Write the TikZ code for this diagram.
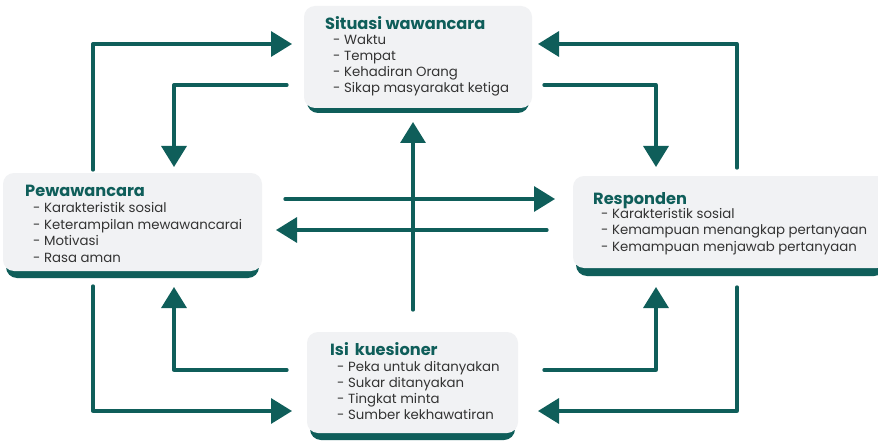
\documentclass[tikz,border=0pt]{standalone}
\usepackage{fontspec}
\setmainfont{Poppins}
\usetikzlibrary{arrows.meta}
\definecolor{dteal}{HTML}{0F5E5A}
\definecolor{boxgray}{HTML}{F1F2F4}
\definecolor{txtgray}{HTML}{333333}
\begin{document}
\begin{tikzpicture}[x=1pt,y=-1pt,
  box/.style={fill=boxgray, rounded corners=11pt, draw=none, inner sep=0, outer sep=0},
  shadowbox/.style={fill=dteal, rounded corners=11pt, draw=none, inner sep=0, outer sep=0},
  arr/.style={draw=dteal, line width=3.3pt, line cap=round, line join=round, -{Triangle[length=21pt,width=25pt]}},
  ttl/.style={anchor=base west, font=\fontsize{16.2}{20}\selectfont\bfseries, text=dteal, inner sep=0},
  itm/.style={anchor=base west, font=\fontsize{13.3}{16}\selectfont, text=txtgray, inner sep=0}]
\useasboundingbox (0,0) rectangle (878,441);
\fill[white] (0,0) rectangle (878,441);

% boxes with shadows
\node[shadowbox, minimum width=222pt, minimum height=102pt] (sitS) at (418,62) {};
\node[box, minimum width=228pt, minimum height=102pt] (sit) at (418,57) {};
\node[shadowbox, minimum width=253pt, minimum height=98pt] (pewS) at (132.5,229) {};
\node[box, minimum width=259pt, minimum height=98pt] (pew) at (132.5,222) {};
\node[shadowbox, minimum width=309pt, minimum height=92pt] (resS) at (730.5,230) {};
\node[box, minimum width=315pt, minimum height=92pt] (res) at (730.5,222) {};
\node[shadowbox, minimum width=205pt, minimum height=101pt] (isiS) at (412.5,389.5) {};
\node[box, minimum width=211pt, minimum height=101pt] (isi) at (412.5,382.5) {};

% texts
\node[ttl] (sitT) at (325,29.8) {Situasi wawancara};
\foreach \t [count=\i] in {Waktu,Tempat,Kehadiran Orang,Sikap masyarakat ketiga}
  \node[itm] (sitI\i) at (333,29+15.9*\i) {- \t};
\node[ttl] (pewT) at (25,196) {Pewawancara};
\foreach \t [count=\i] in {Karakteristik sosial,Keterampilan mewawancarai,Motivasi,Rasa aman}
  \node[itm] (pewI\i) at (33,195.6+16.7*\i) {- \t};
\node[ttl] (resT) at (593,204) {Responden};
\foreach \t [count=\i] in {Karakteristik sosial,Kemampuan menangkap pertanyaan,Kemampuan menjawab pertanyaan}
  \node[itm] (resI\i) at (601,201.8+16.4*\i) {- \t};
\node[ttl] (isiT) at (330,355) {Isi\hspace{6pt}kuesioner};
\foreach \t [count=\i] in {Peka untuk ditanyakan,Sukar ditanyakan,Tingkat minta,Sumber kekhawatiran}
  \node[itm] (isiI\i) at (337,355.8+15.9*\i) {- \t};

% connector coordinates
\coordinate (a1s) at (93,170);   \coordinate (a1e) at (292,44);
\coordinate (a2s) at (287,85);   \coordinate (a2e) at (174,167);
\coordinate (a3s) at (737,168);  \coordinate (a3e) at (538,44);
\coordinate (a4s) at (544,85);   \coordinate (a4e) at (656,167);
\coordinate (a5s) at (285,199);  \coordinate (a5e) at (555,199);
\coordinate (a6s) at (547,230);  \coordinate (a6e) at (276,230);
\coordinate (a7s) at (413,310);  \coordinate (a7e) at (413,122);
\coordinate (a8s) at (93,286);   \coordinate (a8e) at (292,411);
\coordinate (a9s) at (287,370);  \coordinate (a9e) at (174,287);
\coordinate (a10s) at (737,287); \coordinate (a10e) at (538,411);
\coordinate (a11s) at (544,370); \coordinate (a11e) at (656,287);

\draw[arr] (a1s) |- (a1e);
\draw[arr] (a2s) -| (a2e);
\draw[arr] (a3s) |- (a3e);
\draw[arr] (a4s) -| (a4e);
\draw[arr] (a5s) -- (a5e);
\draw[arr] (a6s) -- (a6e);
\draw[arr] (a7s) -- (a7e);
\draw[arr] (a8s) |- (a8e);
\draw[arr] (a9s) -| (a9e);
\draw[arr] (a10s) |- (a10e);
\draw[arr] (a11s) -| (a11e);
\end{tikzpicture}
\end{document}
